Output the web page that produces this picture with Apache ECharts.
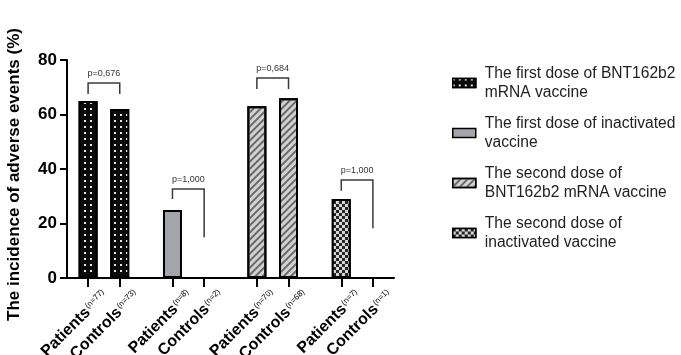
<!DOCTYPE html>
<html><head><meta charset="utf-8">
<script src="https://cdn.jsdelivr.net/npm/echarts@6/dist/echarts.min.js"></script>
<style>html,body{margin:0;padding:0;background:#fff}#c{width:681px;height:355px}</style>
</head><body><div id="c"></div>
<script>
// ---- data ----
const categories = ['Patients','Controls','Patients','Controls','Patients','Controls','Patients','Controls'];
const sampleSizes = ['(n=77)','(n=73)','(n=8)','(n=2)','(n=70)','(n=68)','(n=7)','(n=1)'];
const incidence = [65, 62, 25, 0, 63, 66, 29, 0];
const groupOf = [0, 0, 1, 1, 2, 2, 3, 3];
const seriesNames = [
  'The first dose of BNT162b2\nmRNA vaccine',
  'The first dose of inactivated\nvaccine',
  'The second dose of\nBNT162b2 mRNA vaccine',
  'The second dose of\ninactivated vaccine'
];
const yTicks = [0, 20, 40, 60, 80];
const pLabels = ['p=0,676', 'p=1,000', 'p=0,684', 'p=1,000'];
const bracketLeftCat = [0, 2, 4, 6];
const bracketRightCat = [1, 3, 5, 7];
const bracketTop = [71.6, 32.7, 73.4, 36];
const bracketLeftEnd = [67.5, 29, 69.4, 32];
const bracketRightEnd = [67.5, 15, 69.4, 18.3];

// layout slots on the category axis (spacers between groups)
const catSlot = [2, 5, 10, 13, 18, 21, 26, 29];
const slotCount = 32;

const slotKeys = [];
const slotToCat = {};
for (let s = 0; s < slotCount; s++) slotKeys.push('s' + s);
catSlot.forEach((s, i) => { slotToCat[s] = i; });

const barStyles = [
  { color: '#0b0b0b', decal: { symbol: 'rect', symbolSize: 1, color: '#e8e8e8', dashArrayX: [1.1, 3.9], dashArrayY: [1.1, 3.9] } },
  { color: '#a4a4ac' },
  { color: '#d2d2d2', decal: { symbol: 'rect', symbolSize: 1, color: '#6a6a6a', dashArrayX: [1, 0], dashArrayY: [2, 2.4], rotation: -Math.PI / 4 } },
  { color: '#262626', decal: { symbol: 'rect', symbolSize: 1, color: '#d6d6d6', dashArrayX: [[3, 3], [0, 3, 3, 0]], dashArrayY: [3, 0] } }
];

const barSeries = seriesNames.map((name, g) => {
  const data = new Array(slotCount).fill(null);
  incidence.forEach((v, i) => { if (groupOf[i] === g && v > 0) data[catSlot[i]] = v; });
  return {
    name, type: 'bar', data, barWidth: 19, barGap: '-100%',
    itemStyle: Object.assign({ borderColor: '#000', borderWidth: 2 }, barStyles[g])
  };
});

const bracketData = pLabels.map((p, i) => [catSlot[bracketLeftCat[i]], catSlot[bracketRightCat[i]], bracketTop[i], bracketLeftEnd[i], bracketRightEnd[i]]);

const chart = echarts.init(document.getElementById('c'));
chart.setOption({
  animation: false,
  backgroundColor: '#fff',
  grid: { left: 67, top: 60, bottom: 77, width: 327, containLabel: false, outerBoundsMode: 'none' },
  legend: {
    orient: 'vertical', left: 447, top: 59,
    icon: 'rect',
    itemWidth: 23, itemHeight: 9, itemGap: 12,
    data: seriesNames,
    itemStyle: { borderColor: '#000', borderWidth: 1.5 },
    textStyle: { fontFamily: 'Liberation Sans', fontSize: 15.6, color: '#222', lineHeight: 19, padding: [0, 0, 0, 4] }
  },
  xAxis: {
    type: 'category', data: slotKeys, boundaryGap: false,
    axisLine: { lineStyle: { color: '#000', width: 2 } },
    axisTick: { length: 9, lineStyle: { color: '#000', width: 2 }, interval: (idx) => slotToCat[idx] !== undefined },
    axisLabel: {
      interval: 0, rotate: 45, margin: 12, padding: [28, -10, 0, 0],
      formatter: (v) => {
        const s = +v.slice(1); const i = slotToCat[s];
        return i === undefined ? '' : '{a|' + categories[i] + '}{b|' + sampleSizes[i] + '}';
      },
      rich: {
        a: { fontFamily: 'Liberation Sans', fontSize: 16, fontWeight: 'bold', color: '#000' },
        b: { fontFamily: 'Liberation Sans', fontSize: 8, color: '#000', padding: [0, 0, 6, 1] }
      }
    },
    splitLine: { show: false }
  },
  yAxis: {
    type: 'value', min: 0, max: 80, interval: 20,
    name: 'The incidence of adverse events (%)', nameLocation: 'middle', nameGap: 44,
    nameTextStyle: { fontFamily: 'Liberation Sans', fontSize: 17, fontWeight: 'bold', color: '#000', padding: [0, 11, 0, 0] },
    axisLine: { show: true, lineStyle: { color: '#000', width: 2 } },
    axisTick: { show: true, length: 7, lineStyle: { color: '#000', width: 2 } },
    axisLabel: { fontFamily: 'Liberation Sans', fontSize: 17, fontWeight: 'bold', color: '#000', margin: 10,
      formatter: (v) => yTicks.includes(v) ? String(v) : '' },
    splitLine: { show: false }
  },
  series: barSeries.concat([{
    type: 'custom', silent: true, data: bracketData, z: 5,
    encode: { x: [0, 1], y: [2, 3, 4] },
    renderItem: (params, api) => {
      const l = api.value(0), r = api.value(1), t = api.value(2), a = api.value(3), b = api.value(4);
      const p1 = api.coord([l, a]), p2 = api.coord([l, t]), p3 = api.coord([r, t]), p4 = api.coord([r, b]);
      return { type: 'group', children: [
        { type: 'polyline', shape: { points: [p1, p2, p3, p4] }, style: { stroke: '#3a3a3a', lineWidth: 1.5, fill: null } },
        { type: 'text', x: (p2[0] + p3[0]) / 2, y: p2[1] - 5,
          style: { text: pLabels[params.dataIndex], fill: '#333', font: '9px "Liberation Sans"', align: 'center', verticalAlign: 'bottom' } }
      ] };
    }
  }])
});
</script>
</body></html>
